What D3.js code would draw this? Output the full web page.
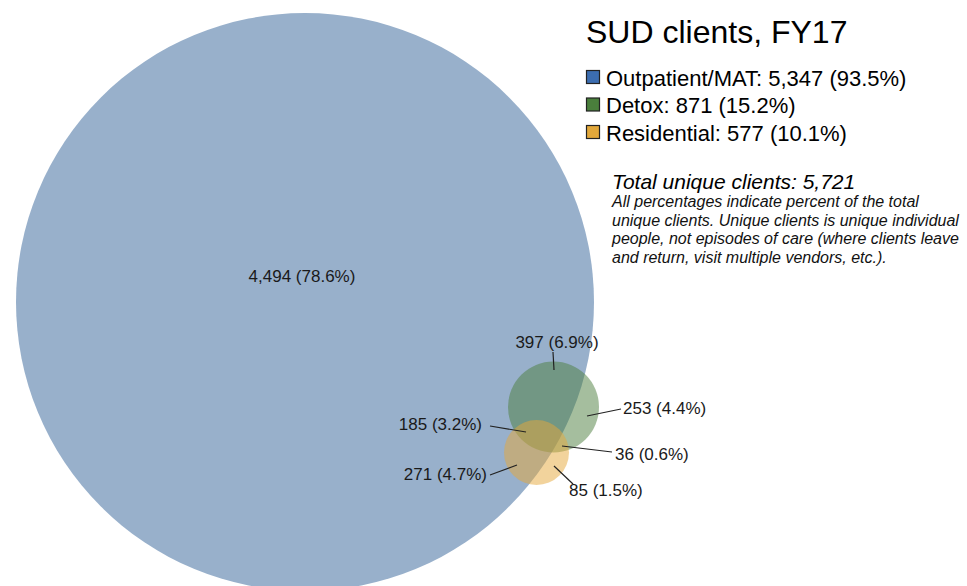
<!DOCTYPE html>
<html><head><meta charset="utf-8">
<script src="https://cdn.jsdelivr.net/npm/d3@7"></script>
<style>html,body{margin:0;padding:0;background:#fff;}svg{display:block;font-family:"Liberation Sans",Arial,sans-serif;}</style>
</head><body>
<svg id="c" width="967" height="586"></svg>
<script>
// ---- data ----
const setNames = ["Outpatient/MAT", "Detox", "Residential"];
const setTotals = [5347, 871, 577];
const totalUnique = 5721;
const regionSets = ["O", "OD", "D", "ODR", "DR", "OR", "R"];
const regionValues = [4494, 397, 253, 185, 36, 271, 85];
const noteLines = [
  "All percentages indicate percent of the total",
  "unique clients. Unique clients is unique individual",
  "people, not episodes of care (where clients leave",
  "and return, visit multiple vendors, etc.)."
];

// ---- layout (not data) ----
const circles = [
  {cx: 305, cy: 302, r: 289, fill: "#98b0cb", op: 1},
  {cx: 553.5, cy: 407, r: 45.5, fill: "#4b7d3d", op: 0.5},
  {cx: 536.5, cy: 452.5, r: 32.5, fill: "#e6a73a", op: 0.5}
];
const legendColors = ["#3c6db0", "#4a7f3c", "#e2a83b"];
// label anchor (text x,y,anchor) and leader line [x1,y1,x2,y2]
const labelLayout = {
  O:   {x: 302, y: 282, a: "middle", line: null},
  OD:  {x: 557, y: 348, a: "middle", line: [553, 352, 554, 370]},
  D:   {x: 623, y: 414, a: "start", line: [587, 416, 621, 409]},
  ODR: {x: 482, y: 430, a: "end", line: [490, 426, 526, 432]},
  DR:  {x: 615, y: 460, a: "start", line: [562, 446, 612, 452]},
  OR:  {x: 487, y: 480, a: "end", line: [490, 475, 517, 465]},
  R:   {x: 569, y: 496, a: "start", line: [554, 466, 573, 484]}
};

const svg = d3.select("#c");
const fmtN = d3.format(",");
const fmtP = v => d3.format(".1f")(v / totalUnique * 100) + "%";

svg.append("g").selectAll("circle").data(circles).join("circle")
  .attr("cx", d => d.cx).attr("cy", d => d.cy).attr("r", d => d.r)
  .attr("fill", d => d.fill).attr("fill-opacity", d => d.op);

const regions = regionSets.map((k, i) => ({key: k, value: regionValues[i], ...labelLayout[k]}));

svg.append("g").selectAll("line").data(regions.filter(d => d.line)).join("line")
  .attr("x1", d => d.line[0]).attr("y1", d => d.line[1])
  .attr("x2", d => d.line[2]).attr("y2", d => d.line[3])
  .attr("stroke", "#222").attr("stroke-width", 1.2);

svg.append("g").selectAll("text").data(regions).join("text")
  .attr("x", d => d.x).attr("y", d => d.y).attr("text-anchor", d => d.a)
  .attr("font-size", 17).attr("fill", "#1a1a1a")
  .text(d => `${fmtN(d.value)} (${fmtP(d.value)})`);

// title + legend
svg.append("text").attr("x", 586).attr("y", 43).attr("font-size", 32).attr("fill", "#000")
  .text("SUD clients, FY17");

const leg = svg.append("g").selectAll("g").data(setNames).join("g")
  .attr("transform", (d, i) => `translate(586,${70 + i * 27.5})`);
leg.append("rect").attr("x", 0.5).attr("y", 0.5).attr("width", 13).attr("height", 13)
  .attr("fill", (d, i) => legendColors[i]).attr("stroke", "#222").attr("stroke-width", 1.2);
leg.append("text").attr("x", 20).attr("y", 15.5).attr("font-size", 22).attr("fill", "#000")
  .text((d, i) => `${d}: ${fmtN(setTotals[i])} (${fmtP(setTotals[i])})`);

svg.append("text").attr("x", 612).attr("y", 189).attr("font-size", 21).attr("font-style", "italic")
  .attr("fill", "#000").text(`Total unique clients: ${fmtN(totalUnique)}`);

svg.append("g").selectAll("text").data(noteLines).join("text")
  .attr("x", 612).attr("y", (d, i) => 207 + i * 18.7)
  .attr("font-size", 16).attr("font-style", "italic").attr("fill", "#111")
  .text(d => d);
</script>
</body></html>
